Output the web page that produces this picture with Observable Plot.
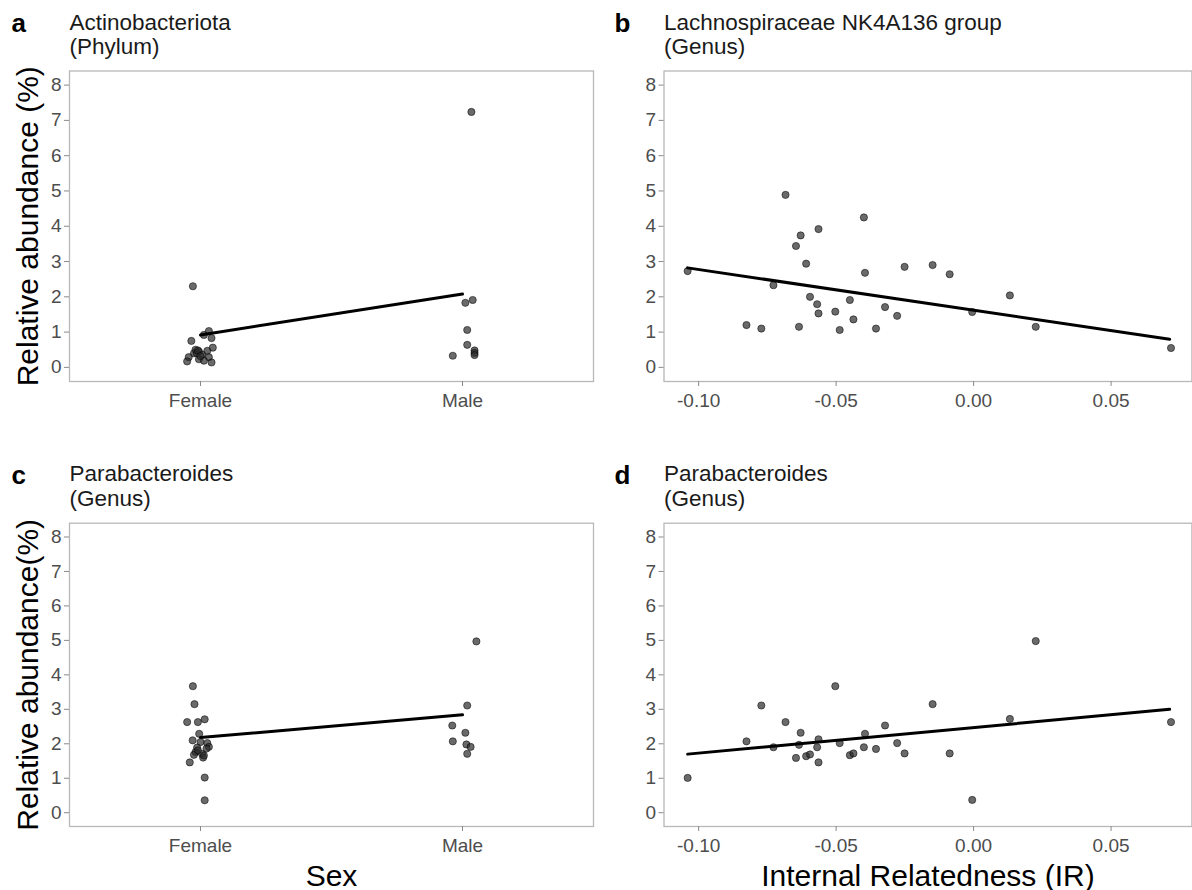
<!DOCTYPE html>
<html>
<head>
<meta charset="utf-8">
<script src="https://cdn.jsdelivr.net/npm/d3@7"></script>
<script src="https://cdn.jsdelivr.net/npm/@observablehq/plot@0.6"></script>
<style>
  body { margin: 0; background: #fff; }
  #root { position: relative; width: 1192px; height: 890px; overflow: hidden; background: #fff; }
  .panel { position: absolute; }
</style>
</head>
<body>
<div id="root"></div>
<script>
// ---------------- DATA ----------------
const sexCategories = ["Female", "Male"];
const yTicks = [0, 1, 2, 3, 4, 5, 6, 7, 8];
const irTicks = [-0.10, -0.05, 0.00, 0.05];
const irTickLabels = ["-0.10", "-0.05", "0.00", "0.05"];

// Panel a: Actinobacteriota (Phylum) by sex (jittered)
const actinoSex = ["Female","Female","Female","Female","Female","Female","Female","Female","Female","Female",
                   "Female","Female","Female","Female","Female","Female","Female","Female","Female","Female",
                   "Male","Male","Male","Male","Male","Male","Male","Male","Male"];
const actinoJitter = [-0.029, 0.032, 0.013, 0.042, -0.035, 0.047, -0.019, -0.006, 0.026, -0.025,
                      0.006, 0.032, -0.045, -0.006, -0.051, 0.013, 0.042, -0.014, -0.010, 0.000,
                      0.034, 0.011, 0.039, 0.018, 0.018, -0.037, 0.046, 0.046, 0.046];
const actinoAbund = [2.30, 1.03, 0.92, 0.83, 0.75, 0.56, 0.50, 0.45, 0.47, 0.40,
                     0.36, 0.29, 0.29, 0.23, 0.17, 0.19, 0.14, 0.40, 0.48, 0.32,
                     7.24, 1.83, 1.91, 1.06, 0.64, 0.33, 0.48, 0.41, 0.35];
const actinoFitSex = [1, 2];
const actinoFitY = [0.92, 2.08];

// Panel b / d: Internal relatedness (same individuals)
const irValues = [-0.1040, -0.0826, -0.0772, -0.0728, -0.0684, -0.0646, -0.0629, -0.0635, -0.0609, -0.0595,
                  -0.0569, -0.0564, -0.0564, -0.0503, -0.0487, -0.0450, -0.0437, -0.0399, -0.0395, -0.0355,
                  -0.0322, -0.0278, -0.0251, -0.0149, -0.0087, -0.0005, 0.0132, 0.0226, 0.0718];
const lachnoAbund = [2.73, 1.20, 1.10, 2.33, 4.89, 3.44, 3.74, 1.15, 2.94, 2.00,
                     1.79, 3.92, 1.53, 1.58, 1.06, 1.91, 1.36, 4.25, 2.68, 1.10,
                     1.71, 1.46, 2.85, 2.90, 2.64, 1.57, 2.04, 1.15, 0.55];
const lachnoFitIR = [-0.1040, 0.0713];
const lachnoFitY = [2.82, 0.80];

const paraIRAbund = [1.01, 2.07, 3.11, 1.90, 2.63, 1.59, 2.32, 1.97, 1.64, 1.69,
                     1.90, 2.13, 1.46, 3.67, 2.02, 1.67, 1.72, 1.90, 2.29, 1.85,
                     2.53, 2.02, 1.72, 3.15, 1.72, 0.37, 2.72, 4.98, 2.63];
const paraIRFitIR = [-0.1040, 0.0713];
const paraIRFitY = [1.70, 3.00];

// Panel c: Parabacteroides by sex (jittered)
const paraSex = ["Female","Female","Female","Female","Female","Female","Female","Female","Female","Female",
                 "Female","Female","Female","Female","Female","Female","Female","Female","Female","Female","Female",
                 "Male","Male","Male","Male","Male","Male","Male","Male"];
const paraJitter = [-0.029, -0.023, -0.051, -0.010, 0.016, -0.005, -0.030, 0.000, 0.026, 0.032,
                    -0.013, -0.019, -0.025, 0.006, 0.010, 0.023, -0.041, 0.016, 0.016, -0.010, 0.013,
                    0.053, 0.018, -0.039, 0.011, -0.037, 0.015, 0.031, 0.018];
const paraAbund = [3.67, 3.15, 2.63, 2.63, 2.71, 2.29, 2.10, 2.05, 2.02, 1.91,
                   1.89, 1.76, 1.68, 1.71, 1.60, 1.86, 1.46, 1.02, 0.36, 1.81, 1.66,
                   4.97, 3.11, 2.53, 2.32, 2.07, 1.98, 1.91, 1.71];
const paraFitSex = [1, 2];
const paraFitY = [2.18, 2.84];

// ---------------- RENDER ----------------
const FONT = '"Liberation Sans", Arial, sans-serif';
const root = document.getElementById("root");

function sexToNum(s) { return sexCategories.indexOf(s) + 1; }

function panel(cfg) {
  const marks = [
    Plot.frame({stroke: "#b8b8b8", strokeWidth: 1.3}),
    Plot.axisY({ticks: yTicks, tickSize: 5, tickPadding: 3, fontSize: 19, fill: "#4d4d4d", stroke: "#8a8a8a", label: null}),
    cfg.xAxis,
    Plot.dot(cfg.points, {x: "x", y: "y", r: 3.6, fill: "#2b2b2b", fillOpacity: 0.7, stroke: "#000", strokeOpacity: 0.65, strokeWidth: 0.8}),
    Plot.line(cfg.fit, {x: "x", y: "y", stroke: "#000", strokeWidth: 3}),
    Plot.text([cfg.letter], {text: d => d, frameAnchor: "top-left", dx: cfg.letterDx, dy: cfg.letterDy, textAnchor: "start", lineAnchor: "bottom", fontSize: 26, fontWeight: "bold", fill: "#000"}),
    Plot.text([cfg.title1], {text: d => d, frameAnchor: "top-left", dx: 0, dy: cfg.t1Dy, textAnchor: "start", lineAnchor: "bottom", fontSize: 22.5, fill: "#1a1a1a"}),
    Plot.text([cfg.title2], {text: d => d, frameAnchor: "top-left", dx: 0, dy: cfg.t2Dy, textAnchor: "start", lineAnchor: "bottom", fontSize: 22.5, fill: "#1a1a1a"})
  ];
  if (cfg.yLabel) marks.push(Plot.text([cfg.yLabel], {text: d => d, frameAnchor: "left", dx: -32, rotate: -90, textAnchor: "middle", lineAnchor: "bottom", fontSize: 30, fill: "#000"}));
  if (cfg.xLabel) marks.push(Plot.text([cfg.xLabel], {text: d => d, frameAnchor: "bottom", dy: 59, textAnchor: "middle", lineAnchor: "bottom", fontSize: 30, fill: "#000"}));
  const svg = Plot.plot({
    width: cfg.width, height: cfg.height,
    marginLeft: cfg.ml, marginRight: cfg.mr, marginTop: cfg.mt, marginBottom: cfg.mb,
    style: {fontFamily: FONT, background: "transparent", overflow: "visible"},
    x: {domain: cfg.xDomain},
    y: {domain: [-0.4, 8.4]},
    marks
  });
  const div = document.createElement("div");
  div.className = "panel";
  div.style.left = cfg.left + "px";
  div.style.top = cfg.top + "px";
  div.appendChild(svg);
  root.appendChild(div);
}

const sexAxis = Plot.axisX({ticks: [1, 2], tickFormat: d => sexCategories[d - 1], tickSize: 5, tickPadding: 7, fontSize: 19, fill: "#4d4d4d", stroke: "#8a8a8a", label: null});
const irAxis = Plot.axisX({ticks: irTicks, tickFormat: (d, i) => irTickLabels[i], tickSize: 5, tickPadding: 7, fontSize: 19, fill: "#4d4d4d", stroke: "#8a8a8a", label: null});

const actinoPts = actinoSex.map((s, i) => ({x: sexToNum(s) + actinoJitter[i], y: actinoAbund[i]}));
const actinoFit = actinoFitSex.map((x, i) => ({x, y: actinoFitY[i]}));
const lachnoPts = irValues.map((x, i) => ({x, y: lachnoAbund[i]}));
const lachnoFit = lachnoFitIR.map((x, i) => ({x, y: lachnoFitY[i]}));
const paraPts = paraSex.map((s, i) => ({x: sexToNum(s) + paraJitter[i], y: paraAbund[i]}));
const paraFit = paraFitSex.map((x, i) => ({x, y: paraFitY[i]}));
const paraIRPts = irValues.map((x, i) => ({x, y: paraIRAbund[i]}));
const paraIRFit = paraIRFitIR.map((x, i) => ({x, y: paraIRFitY[i]}));

const irDomain = [-0.1126, 0.0794];
const sexDomain = [0.5, 2.5];

panel({left: 0, top: 0, width: 596, height: 420, ml: 69, mr: 3, mt: 70.5, mb: 39,
  xDomain: sexDomain, xAxis: sexAxis, points: actinoPts, fit: actinoFit,
  letter: "a", letterDx: -58, letterDy: -39.5, title1: "Actinobacteriota", title2: "(Phylum)", t1Dy: -41.5, t2Dy: -17,
  yLabel: "Relative abundance (%)"});

panel({left: 600, top: 0, width: 592, height: 420, ml: 63.5, mr: 0.6, mt: 70.5, mb: 39,
  xDomain: irDomain, xAxis: irAxis, points: lachnoPts, fit: lachnoFit,
  letter: "b", letterDx: -49.5, letterDy: -39.5, title1: "Lachnospiraceae NK4A136 group", title2: "(Genus)", t1Dy: -41.5, t2Dy: -17});

panel({left: 0, top: 440, width: 596, height: 450, ml: 69, mr: 3, mt: 82.7, mb: 64,
  xDomain: sexDomain, xAxis: sexAxis, points: paraPts, fit: paraFit,
  letter: "c", letterDx: -58, letterDy: -39.7, title1: "Parabacteroides", title2: "(Genus)", t1Dy: -42.3, t2Dy: -17.5,
  yLabel: "Relative abundance(%)", xLabel: "Sex"});

panel({left: 600, top: 440, width: 592, height: 450, ml: 63.5, mr: 0.6, mt: 82.7, mb: 64,
  xDomain: irDomain, xAxis: irAxis, points: paraIRPts, fit: paraIRFit,
  letter: "d", letterDx: -49.5, letterDy: -39.7, title1: "Parabacteroides", title2: "(Genus)", t1Dy: -42.3, t2Dy: -17.5,
  xLabel: "Internal Relatedness (IR)"});
</script>
</body>
</html>
